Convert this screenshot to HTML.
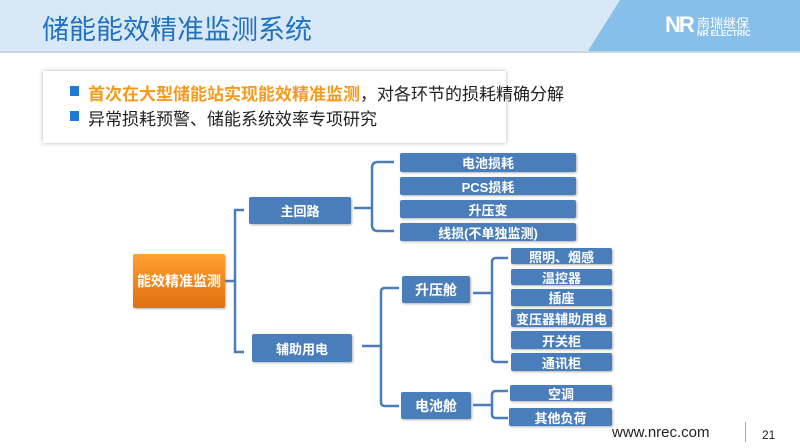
<!DOCTYPE html>
<html><head><meta charset="utf-8"><style>
body{margin:0;width:800px;height:448px;overflow:hidden;background:#fff;font-family:"Liberation Sans","Noto Sans CJK SC",sans-serif;position:relative}
.a{position:absolute}
.b{position:absolute;background:#4a7ebb;color:#fff;font-weight:bold;display:flex;align-items:center;justify-content:center;font-size:13px;border-radius:2px;box-shadow:1px 1px 2px rgba(0,0,0,.3);white-space:nowrap;overflow:hidden}
.l{position:absolute;background:#4a7ebb}
</style></head><body>
<div class="a" style="left:0;top:0;width:800px;height:51px;background:#d8e8f6;border-bottom:2px solid #c9d7e3"></div>
<svg class="a" style="left:0;top:0" width="800" height="51"><polygon points="620,0 800,0 800,51 588,51" fill="#86bfe9"/></svg>
<div class="a" style="left:42px;top:8px;font-size:27px;color:#1f72c2">储能能效精准监测系统</div>
<div class="a" style="left:665px;top:12px;color:#fff;font-weight:bold;font-size:22px;letter-spacing:-2px">NR</div>
<div class="a" style="left:697px;top:13px;color:#fff;font-size:13px">南瑞继保</div>
<div class="a" style="left:697px;top:29px;color:#fff;font-size:8px;font-weight:bold">NR ELECTRIC</div>
<div class="a" style="left:43px;top:71px;width:463px;height:72px;background:#fff;box-shadow:0 0 4px rgba(0,0,0,.3)"></div>
<div class="a" style="left:70px;top:86px;width:9px;height:10px;background:#1f7ad6"></div>
<div class="a" style="left:70px;top:111px;width:9px;height:10px;background:#1f7ad6"></div>
<div class="a" style="left:88px;top:80px;font-size:17px;color:#222"><span style="color:#f59a1b;font-weight:bold">首次在大型储能站实现能效精准监测</span>，对各环节的损耗精确分解</div>
<div class="a" style="left:88px;top:105px;font-size:17px;color:#222">异常损耗预警、储能系统效率专项研究</div>

<div class="b" style="left:133px;top:254px;width:92px;height:54px;background:linear-gradient(#ffa030,#e07010);font-size:14px">能效精准监测</div>
<div class="b" style="left:249px;top:197px;width:102px;height:27px">主回路</div>
<div class="b" style="left:252px;top:334px;width:100px;height:28px">辅助用电</div>
<div class="b" style="left:400px;top:153px;width:176px;height:19px">电池损耗</div>
<div class="b" style="left:400px;top:177px;width:176px;height:18px">PCS损耗</div>
<div class="b" style="left:400px;top:200px;width:176px;height:18px">升压变</div>
<div class="b" style="left:400px;top:223px;width:176px;height:18px">线损(不单独监测)</div>
<div class="b" style="left:402px;top:276px;width:68px;height:27px;font-size:14px">升压舱</div>
<div class="b" style="left:401px;top:392px;width:70px;height:27px;font-size:14px">电池舱</div>
<div class="b" style="left:511px;top:248px;width:101px;height:16px">照明、烟感</div>
<div class="b" style="left:511px;top:269px;width:101px;height:16px">温控器</div>
<div class="b" style="left:511px;top:289px;width:101px;height:17px">插座</div>
<div class="b" style="left:511px;top:309px;width:101px;height:18px">变压器辅助用电</div>
<div class="b" style="left:511px;top:331px;width:101px;height:18px">开关柜</div>
<div class="b" style="left:511px;top:353px;width:101px;height:18px">通讯柜</div>
<div class="b" style="left:510px;top:385px;width:102px;height:16px">空调</div>
<div class="b" style="left:509px;top:408px;width:103px;height:18px">其他负荷</div>

<svg class="a" style="left:0;top:0" width="800" height="448" fill="none" stroke="#4a7ebb" stroke-width="2.5">
<path d="M225,281H235M244,210H235V352H244"/>
<path d="M354,208H372M394,162H378Q372,162 372,168V225Q372,231 378,231H394"/>
<path d="M362,346H381M399,288H385Q381,288 381,292V402Q381,406 385,406H399"/>
<path d="M473,293H492M508,258H496Q492,258 492,262V358Q492,362 496,362H508"/>
<path d="M473,405H492M508,391H496Q492,391 492,395V414Q492,418 496,418H508"/>
</svg>
<div class="a" style="left:612px;top:424px;font-size:15px;color:#222">www.nrec.com</div>
<div class="a" style="left:745px;top:422px;width:1px;height:20px;background:#aab"></div>
<div class="a" style="left:762px;top:428px;font-size:12px;color:#222">21</div>
</body></html>
